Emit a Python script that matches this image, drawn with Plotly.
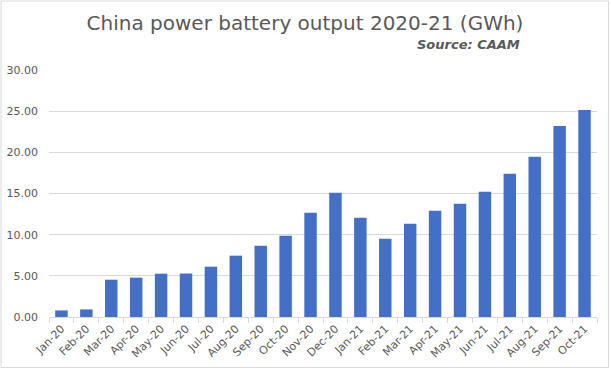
import plotly.graph_objects as go

months = ["Jan-20", "Feb-20", "Mar-20", "Apr-20", "May-20", "Jun-20", "Jul-20", "Aug-20",
          "Sep-20", "Oct-20", "Nov-20", "Dec-20", "Jan-21", "Feb-21", "Mar-21", "Apr-21",
          "May-21", "Jun-21", "Jul-21", "Aug-21", "Sep-21", "Oct-21"]
output_gwh = [0.80, 0.92, 4.53, 4.78, 5.26, 5.28, 6.11, 7.45, 8.65, 9.87, 12.67, 15.10,
              12.06, 9.50, 11.33, 12.90, 13.75, 15.20, 17.40, 19.45, 23.20, 25.15]
y_ticks = [0, 5, 10, 15, 20, 25, 30]

TXT = "#595959"
GRID = "#d9d9d9"

W, H = 611, 370
ML, MR, MT, MB = 49, 14, 70, 53
PW, PH = W - ML - MR, H - MT - MB

fig = go.Figure()
fig.add_trace(go.Bar(
    x=months, y=output_gwh,
    marker=dict(color="#4370c6", line=dict(width=0)),
    hoverinfo="x+y",
))

fig.update_layout(
    width=W, height=H,
    margin=dict(l=ML, r=MR, t=MT, b=MB, autoexpand=False),
    paper_bgcolor="white", plot_bgcolor="white",
    bargap=0.5,
    showlegend=False,
    font=dict(family="DejaVu Sans", color=TXT, size=11),
    title=dict(text="China power battery output 2020-21 (GWh)",
               x=305 / W, xanchor="center", xref="container",
               y=1 - 23 / H, yanchor="middle", yref="container",
               font=dict(family="DejaVu Sans", size=20, color=TXT)),
    annotations=[dict(text="<b><i>Source: CAAM</i></b>", xref="paper", yref="paper",
                      x=(522 - ML) / PW, y=1 + (MT - 44) / PH, xanchor="right", yanchor="middle",
                      showarrow=False, font=dict(family="DejaVu Sans", size=13, color=TXT))],
    shapes=[dict(type="rect", xref="paper", yref="paper",
                 x0=(1 - ML) / PW, x1=(608.5 - ML) / PW,
                 y0=-(367.5 - (H - MB)) / PH, y1=1 + (MT - 1) / PH,
                 line=dict(color=GRID, width=1), fillcolor="rgba(0,0,0,0)", layer="below")],
)
fig.update_xaxes(
    tickangle=-45, showline=True, linecolor=GRID, linewidth=1,
    ticks="outside", tickson="boundaries", ticklen=5, tickcolor=GRID,
    tickfont=dict(size=11, color=TXT), showgrid=False, automargin=False,
)
fig.update_yaxes(
    range=[0, 30], tickvals=y_ticks, tickformat=".2f",
    showgrid=True, gridcolor=GRID, gridwidth=1, zeroline=False, showline=False,
    tickfont=dict(size=11, color=TXT), ticks="", ticklabelstandoff=10, automargin=False,
)

fig.write_html("out.html", config={"displayModeBar": False},
               post_script="document.body.style.margin='0';")
